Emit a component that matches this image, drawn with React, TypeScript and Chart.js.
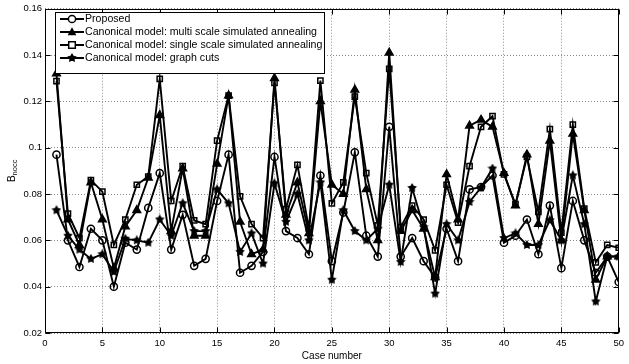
import React, { useEffect, useRef } from "react";
import { Chart, registerables } from "chart.js";

Chart.register(...registerables);

const FONT = '"Liberation Sans", Arial, Helvetica, sans-serif';

const caseNumbers = [
  1, 2, 3, 4, 5, 6, 7, 8, 9, 10, 11, 12, 13, 14, 15, 16, 17, 18, 19, 20, 21, 22, 23, 24, 25,
  26, 27, 28, 29, 30, 31, 32, 33, 34, 35, 36, 37, 38, 39, 40, 41, 42, 43, 44, 45, 46, 47, 48, 49, 50,
];

const proposed = [
  0.097, 0.06, 0.0485, 0.065, 0.06, 0.04, 0.059, 0.056, 0.074, 0.089,
  0.056, 0.071, 0.049, 0.052, 0.077, 0.097, 0.046, 0.049, 0.055, 0.096,
  0.064, 0.061, 0.054, 0.088, 0.051, 0.072, 0.098, 0.062, 0.053, 0.109,
  0.053, 0.061, 0.051, 0.044, 0.065, 0.051, 0.082, 0.083, 0.088, 0.059,
  0.062, 0.069, 0.054, 0.075, 0.048, 0.077, 0.06, 0.046, 0.053, 0.042,
];

const multiScale = [
  0.132, 0.069, 0.058, 0.085, 0.069, 0.048, 0.066, 0.073, 0.087, 0.114,
  0.064, 0.091, 0.062, 0.062, 0.093, 0.1225, 0.068, 0.054, 0.056, 0.13,
  0.071, 0.085, 0.063, 0.12, 0.084, 0.08, 0.125, 0.082, 0.06, 0.141,
  0.064, 0.073, 0.065, 0.044, 0.0885, 0.069, 0.1095, 0.112, 0.109, 0.089,
  0.075, 0.097, 0.067, 0.103, 0.06, 0.106, 0.073, 0.043, 0.053, 0.053,
];

const singleScale = [
  0.1287, 0.0715, 0.061, 0.086, 0.081, 0.058, 0.069, 0.084, 0.0875, 0.1297,
  0.077, 0.092, 0.0686, 0.067, 0.103, 0.1225, 0.079, 0.067, 0.061, 0.128,
  0.0735, 0.0926, 0.065, 0.129, 0.076, 0.085, 0.122, 0.089, 0.0665, 0.134,
  0.0657, 0.075, 0.069, 0.0557, 0.084, 0.0676, 0.092, 0.109, 0.1136, 0.0885,
  0.0756, 0.096, 0.0723, 0.108, 0.0633, 0.11, 0.0737, 0.0505, 0.058, 0.0568,
];

const graphCuts = [
  0.073, 0.062, 0.056, 0.052, 0.054, 0.0464, 0.0607, 0.06, 0.059, 0.069,
  0.062, 0.076, 0.064, 0.064, 0.082, 0.076, 0.055, 0.063, 0.05, 0.0846,
  0.068, 0.08, 0.06, 0.085, 0.043, 0.073, 0.064, 0.06, 0.065, 0.084,
  0.0507, 0.0826, 0.0657, 0.037, 0.067, 0.06, 0.0766, 0.0828, 0.091, 0.061,
  0.063, 0.058, 0.058, 0.0687, 0.06, 0.088, 0.067, 0.0336, 0.053, 0.053,
];

const seriesLabels = [
  "Proposed",
  "Canonical model: multi scale simulated annealing",
  "Canonical model: single scale simulated annealing",
  "Canonical model: graph cuts",
];

const xTicks = [0, 5, 10, 15, 20, 25, 30, 35, 40, 45, 50];
const yTicks = [0.02, 0.04, 0.06, 0.08, 0.1, 0.12, 0.14, 0.16];
const xTitle = "Case number";
const yTitleMain = "B";
const yTitleSub = "nocc";

function makeStar(size: number): HTMLCanvasElement {
  const c = document.createElement("canvas");
  c.width = size;
  c.height = size;
  const g = c.getContext("2d")!;
  g.fillStyle = "#000";
  g.beginPath();
  const cx = size / 2, cy = size / 2, R = size / 2, r = R * 0.55;
  for (let k = 0; k < 10; k++) {
    const ang = -Math.PI / 2 + (k * Math.PI) / 5;
    const rad = k % 2 === 0 ? R : r;
    g.lineTo(cx + rad * Math.cos(ang), cy + rad * Math.sin(ang));
  }
  g.closePath();
  g.fill();
  return c;
}

function drawMarker(ctx: CanvasRenderingContext2D, kind: number, x: number, y: number, star: HTMLCanvasElement) {
  ctx.save();
  ctx.strokeStyle = "#000";
  ctx.fillStyle = "#000";
  ctx.lineWidth = 1.5;
  ctx.beginPath();
  if (kind === 0) {
    ctx.fillStyle = "#fff";
    ctx.arc(x, y, 3.6, 0, Math.PI * 2);
    ctx.fill();
    ctx.stroke();
  } else if (kind === 1) {
    ctx.moveTo(x, y - 4.8);
    ctx.lineTo(x + 4.4, y + 3.2);
    ctx.lineTo(x - 4.4, y + 3.2);
    ctx.closePath();
    ctx.fill();
  } else if (kind === 2) {
    ctx.fillStyle = "#fff";
    ctx.rect(x - 3.3, y - 3.3, 6.6, 6.6);
    ctx.fill();
    ctx.stroke();
  } else {
    ctx.drawImage(star, x - star.width / 2, y - star.height / 2);
  }
  ctx.restore();
}

export default function App() {
  const ref = useRef<HTMLCanvasElement>(null);

  useEffect(() => {
    document.body.style.margin = "0";
    const star = makeStar(10);
    const mk = (vals: number[]) => caseNumbers.map((c, i) => ({ x: c, y: vals[i] }));

    const matlabPlugin = {
      id: "matlabDecor",
      afterDraw(chart: any) {
        const { ctx, chartArea: a, scales } = chart;
        const xs = scales.x, ys = scales.y;
        ctx.save();
        ctx.strokeStyle = "#000";
        ctx.lineWidth = 1;
        const L = Math.round(a.left) + 0.5, T = Math.round(a.top) + 0.5;
        const R = Math.round(a.right) - 0.5, B = Math.round(a.bottom) - 0.5;
        ctx.strokeRect(L, T, R - L, B - T);
        ctx.beginPath();
        xTicks.forEach((v) => {
          const px = Math.round(xs.getPixelForValue(v)) + 0.5;
          ctx.moveTo(px, B); ctx.lineTo(px, B - 5);
          ctx.moveTo(px, T); ctx.lineTo(px, T + 5);
        });
        yTicks.forEach((v) => {
          const py = Math.round(ys.getPixelForValue(v)) + 0.5;
          ctx.moveTo(L, py); ctx.lineTo(L + 5, py);
          ctx.moveTo(R, py); ctx.lineTo(R - 5, py);
        });
        ctx.stroke();

        const lx = 55.5, ly = 12.5, lw = 269, lh = 61;
        ctx.fillStyle = "#fff";
        ctx.fillRect(lx, ly, lw, lh);
        ctx.strokeStyle = "#000";
        ctx.lineWidth = 1;
        ctx.strokeRect(lx, ly, lw, lh);
        const rows = [19, 32, 45, 58];
        ctx.font = `10.6px ${FONT}`;
        ctx.textBaseline = "middle";
        ctx.textAlign = "left";
        seriesLabels.forEach((lab, i) => {
          const yy = rows[i];
          ctx.strokeStyle = "#000";
          ctx.lineWidth = 2;
          ctx.beginPath();
          ctx.moveTo(60, yy);
          ctx.lineTo(84, yy);
          ctx.stroke();
          drawMarker(ctx, i, 72, yy, star);
          ctx.fillStyle = "#000";
          ctx.fillText(lab, 85, yy + 0.5);
        });

        ctx.save();
        ctx.translate(12, (a.top + a.bottom) / 2);
        ctx.rotate(-Math.PI / 2);
        ctx.fillStyle = "#000";
        ctx.textBaseline = "middle";
        ctx.font = `10px ${FONT}`;
        const wB = ctx.measureText(yTitleMain).width;
        ctx.font = `7.5px ${FONT}`;
        const wS = ctx.measureText(yTitleSub).width;
        const start = -(wB + wS) / 2;
        ctx.font = `10px ${FONT}`;
        ctx.fillText(yTitleMain, start, 0);
        ctx.font = `7.5px ${FONT}`;
        ctx.fillText(yTitleSub, start + wB, 3);
        ctx.restore();

        ctx.restore();
      },
    };

    const common = {
      borderColor: "#000",
      borderWidth: 1.9,
      pointBorderColor: "#000",
      pointBorderWidth: 1.5,
      tension: 0,
      fill: false,
    };

    const chart = new Chart(ref.current!, {
      type: "line",
      data: {
        datasets: [
          {
            ...common,
            label: seriesLabels[0],
            data: mk(proposed),
            pointStyle: "circle",
            pointRadius: 3.6,
            pointBackgroundColor: "rgba(255,255,255,0)",
            order: 4,
          },
          {
            ...common,
            label: seriesLabels[1],
            data: mk(multiScale),
            pointStyle: "triangle",
            pointRadius: 4.4,
            pointBackgroundColor: "#000",
            order: 3,
          },
          {
            ...common,
            label: seriesLabels[2],
            data: mk(singleScale),
            pointStyle: "rect",
            pointRadius: 3.7,
            pointBackgroundColor: "rgba(255,255,255,0)",
            order: 2,
          },
          {
            ...common,
            label: seriesLabels[3],
            data: mk(graphCuts),
            pointStyle: star as any,
            pointRadius: 5,
            pointBackgroundColor: "#000",
            order: 1,
          },
        ],
      },
      options: {
        responsive: false,
        animation: false,
        events: [],
        layout: { padding: { top: 8, right: 3, left: 0, bottom: 0 } },
        plugins: { legend: { display: false }, tooltip: { enabled: false } },
        scales: {
          x: {
            type: "linear",
            min: 0,
            max: 50,
            afterBuildTicks: (s: any) => {
              s.ticks = xTicks.map((v) => ({ value: v }));
            },
            afterFit: (s: any) => {
              s.height = 31;
            },
            grid: { color: "#8a8a8a", lineWidth: 1, drawTicks: false },
            border: { display: false, dash: [1, 2] },
            ticks: {
              color: "#000",
              font: { family: FONT, size: 9.5 },
              padding: 5,
              maxRotation: 0,
              callback: (v: any) => String(v),
            },
            title: {
              display: true,
              text: xTitle,
              color: "#000",
              font: { family: FONT, size: 10 },
              padding: { top: 0, bottom: 2 },
            },
          },
          y: {
            type: "linear",
            min: 0.02,
            max: 0.16,
            afterBuildTicks: (s: any) => {
              s.ticks = yTicks.map((v) => ({ value: v }));
            },
            afterFit: (s: any) => {
              s.width = 45;
            },
            grid: { color: "#8a8a8a", lineWidth: 1, drawTicks: false },
            border: { display: false, dash: [1, 2] },
            ticks: {
              color: "#000",
              font: { family: FONT, size: 9.5 },
              padding: 3,
              callback: (v: any) => String(Number(Number(v).toFixed(2))),
            },
          },
        },
      },
      plugins: [matlabPlugin],
    });

    return () => chart.destroy();
  }, []);

  return (
    <div style={{ width: 629, height: 364, position: "relative" }}>
      <canvas ref={ref} width={629} height={364} style={{ display: "block" }} />
    </div>
  );
}
